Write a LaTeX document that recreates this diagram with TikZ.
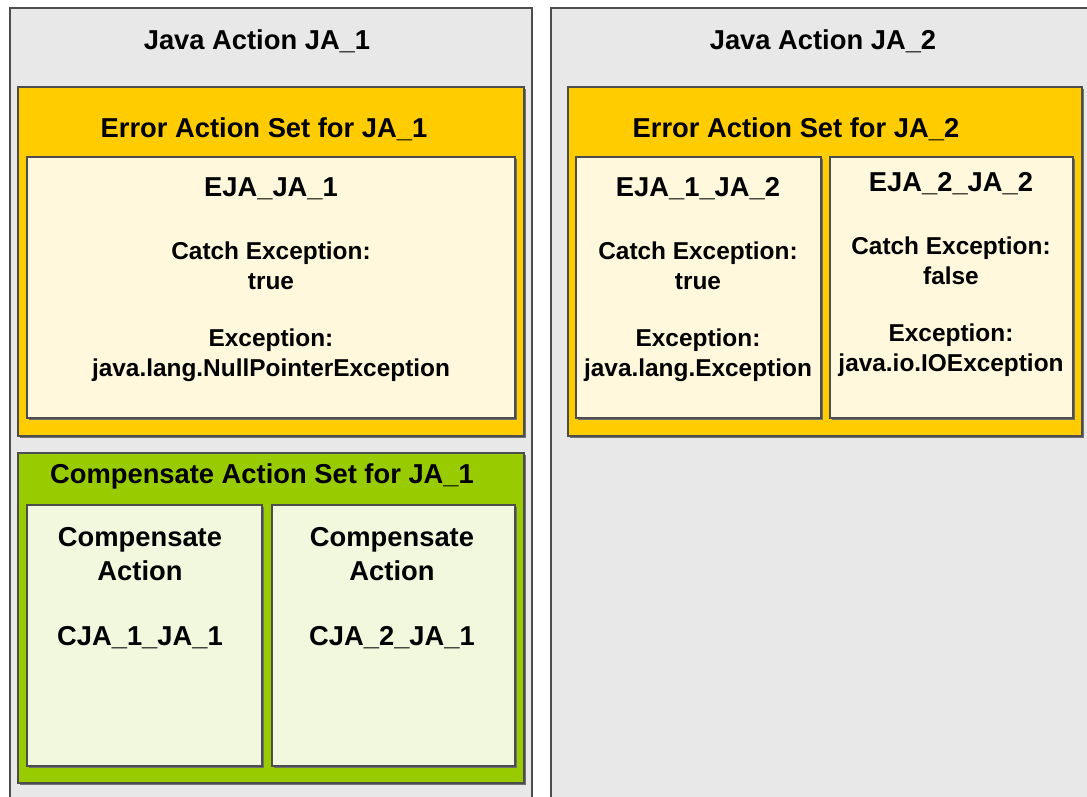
\documentclass[tikz,border=0pt]{standalone}
\usepackage{fontspec}
\setmainfont{Liberation Sans}
\definecolor{outergray}{HTML}{E8E8E8}
\definecolor{errorfill}{HTML}{FFCC00}
\definecolor{compfill}{HTML}{99CC00}
\definecolor{errorinner}{HTML}{FFF8DC}
\definecolor{compinner}{HTML}{F1F8DE}
\definecolor{edge}{HTML}{4D4D4D}
\tikzset{
  boxshadow/.style={fill=edge!80, draw=none},
  outerbox/.style={fill=outergray, draw=edge, line width=0.8pt},
  errorbox/.style={fill=errorfill, draw=edge, line width=0.9pt},
  compbox/.style={fill=compfill, draw=edge, line width=0.9pt},
  errinnerbox/.style={fill=errorinner, draw=edge, line width=0.9pt},
  compinnerbox/.style={fill=compinner, draw=edge, line width=0.9pt},
  bigtext/.style={font=\bfseries\fontsize{20.5}{24}\selectfont, inner sep=0pt, align=center},
  smalltext/.style={font=\bfseries\fontsize{18.3}{22.5}\selectfont, inner sep=0pt, align=center},
}
\begin{document}
\begin{tikzpicture}[x=0.75pt,y=-0.75pt]
\useasboundingbox (0,0) rectangle (1087,796);
\clip (0,0) rectangle (1087,796);
\fill[white] (0,0) rectangle (1087,796);
% outer boxes
\draw[outerbox] (10,8) rectangle (532,805);
\draw[outerbox] (551,8) rectangle (1100,805);
\node[bigtext] (ja1) at (257,41) {Java Action JA\_1};
\node[bigtext] (ja2) at (823,41) {Java Action JA\_2};
% error action set JA_1
\fill[boxshadow] (20,89) rectangle (526,438);
\draw[errorbox] (18,87) rectangle (524,436);
\node[bigtext] (eas1) at (264,129) {Error Action Set for JA\_1};
\fill[boxshadow] (29,159) rectangle (517,420);
\draw[errinnerbox] (27,157) rectangle (515,418);
\node[bigtext] (eja1) at (271,189) {EJA\_JA\_1};
\node[smalltext] (ce1) at (271,266) {Catch Exception:\\true};
\node[smalltext] (ex1) at (271,355) {Exception:\\java.lang.NullPointerException};
% compensate action set JA_1
\fill[boxshadow] (20,455) rectangle (526,785);
\draw[compbox] (18,453) rectangle (524,783);
\node[bigtext] (cas1) at (262,476) {Compensate Action Set for JA\_1};
\fill[boxshadow] (29,507) rectangle (264,768);
\draw[compinnerbox] (27,505) rectangle (262,766);
\fill[boxshadow] (274,507) rectangle (517,768);
\draw[compinnerbox] (272,505) rectangle (515,766);
\node[bigtext, font=\bfseries\fontsize{20.5}{25}\selectfont] (ca1) at (140,554) {Compensate\\Action};
\node[bigtext] (cja1) at (140,638) {CJA\_1\_JA\_1};
\node[bigtext, font=\bfseries\fontsize{20.5}{25}\selectfont] (ca2) at (392,554) {Compensate\\Action};
\node[bigtext] (cja2) at (392,638) {CJA\_2\_JA\_1};
% error action set JA_2
\fill[boxshadow] (570,89) rectangle (1084,438);
\draw[errorbox] (568,87) rectangle (1082,436);
\node[bigtext] (eas2) at (796,129) {Error Action Set for JA\_2};
\fill[boxshadow] (578,159) rectangle (823,420);
\draw[errinnerbox] (576,157) rectangle (821,418);
\fill[boxshadow] (832,159) rectangle (1075,420);
\draw[errinnerbox] (830,157) rectangle (1073,418);
\node[bigtext] (eja12) at (698,189) {EJA\_1\_JA\_2};
\node[smalltext] (ce12) at (698,266) {Catch Exception:\\true};
\node[smalltext] (ex12) at (698,355) {Exception:\\java.lang.Exception};
\node[bigtext] (eja22) at (951,184) {EJA\_2\_JA\_2};
\node[smalltext] (ce22) at (951,261) {Catch Exception:\\false};
\node[smalltext] (ex22) at (951,350) {Exception:\\java.io.IOException};
\end{tikzpicture}
\end{document}
